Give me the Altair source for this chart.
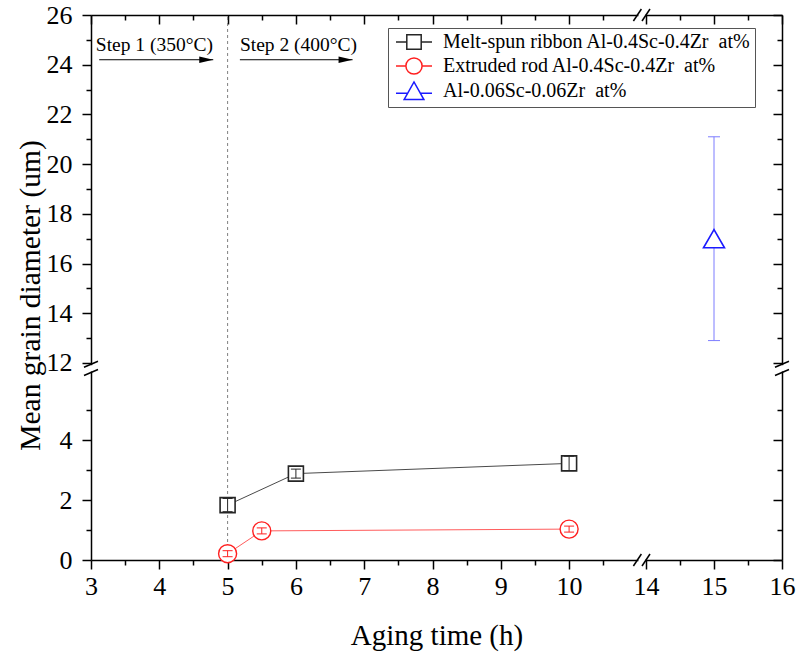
import altair as alt
import pandas as pd

# ---------------- data ----------------
ribbon_time = [5, 6, 10]
ribbon_diam = [1.83, 2.88, 3.22]
ribbon_err = [0.22, 0.15, 0.24]

rod_time = [5, 5.5, 10]
rod_diam = [0.21, 0.97, 1.03]
rod_err = [0.1, 0.1, 0.1]

dilute_time = [15]
dilute_diam = [17.0]
dilute_err = [4.1]

series_names = [
    "Melt-spun ribbon Al-0.4Sc-0.4Zr\u00a0 at%",
    "Extruded rod Al-0.4Sc-0.4Zr\u00a0 at%",
    "Al-0.06Sc-0.06Zr\u00a0 at%",
]

x_major = [3, 4, 5, 6, 7, 8, 9, 10, 14, 15, 16]
x_minor = [3.5, 4.5, 5.5, 6.5, 7.5, 8.5, 9.5, 10.5, 14.5, 15.5]
y_major = [0, 2, 4, 12, 14, 16, 18, 20, 22, 24, 26]
y_minor = [1, 3, 5, 13, 15, 17, 19, 21, 23, 25]

x_segments = [3, 11, 14, 16]        # broken x axis: 3-11 | 14-16
y_segments = [0, 6.25, 11.95, 26]   # broken y axis: 0-6.25 | 11.95-26

step_labels = ["Step 1 (350°C)", "Step 2 (400°C)"]
step_text_x = [3.07, 5.18]
arrow_tail = [3.12, 5.18]
arrow_head = [4.79, 6.83]
arrow_level = 24.2
label_level = 24.55
stage_boundary = 5

# ---------------- layout ----------------
W, H = 691, 545
FONT = "Liberation Serif"

xs = alt.Scale(domain=x_segments, range=[0, 546.4, 555, W], nice=False, zero=False)
ys = alt.Scale(domain=y_segments, range=[H, 357.5, 349.2, 0], nice=False, zero=False)


def X(field, axis=None):
    return alt.X(field, type="quantitative", scale=xs, axis=axis)


def Y(field, axis=None):
    return alt.Y(field, type="quantitative", scale=ys, axis=axis)


ribbon = pd.DataFrame({"t": ribbon_time, "d": ribbon_diam, "e": ribbon_err})
rod = pd.DataFrame({"t": rod_time, "d": rod_diam, "e": rod_err})
dilute = pd.DataFrame({"t": dilute_time, "d": dilute_diam, "e": dilute_err})

common_axis = dict(grid=False, tickColor="black", tickWidth=1.5, domainColor="black",
                   domainWidth=1.5, zindex=0)

ax_x_main = alt.Axis(values=x_major, format="d", orient="bottom", tickSize=9,
                     labelFont=FONT, labelFontSize=26, labelColor="black", labelPadding=4,
                     labelFlush=False, labelOverlap=False,
                     title="Aging time (h)", titleFont=FONT, titleFontSize=29,
                     titleFontWeight="normal", titleColor="black", titleY=75,
                     titleBaseline="middle", **common_axis)
ax_x_minor = alt.Axis(values=x_minor, orient="bottom", tickSize=5, labels=False,
                      domain=False, title=None, **common_axis)
ax_x_top = alt.Axis(values=x_major, orient="bottom", offset=-H, tickSize=9, labels=False,
                    title=None, **common_axis)
ax_x_top_minor = alt.Axis(values=x_minor, orient="bottom", offset=-H, tickSize=5,
                          labels=False, domain=False, title=None, **common_axis)

ax_y_main = alt.Axis(values=y_major, format="d", orient="left", tickSize=9,
                     labelFont=FONT, labelFontSize=26, labelColor="black", labelPadding=10,
                     labelFlush=False, labelOverlap=False,
                     title="Mean grain diameter (um)", titleFont=FONT, titleFontSize=29.5,
                     titleFontWeight="normal", titleColor="black", titleX=-61, titleY=280,
                     titleAngle=-90, titleAlign="center", titleBaseline="middle",
                     **common_axis)
ax_y_minor = alt.Axis(values=y_minor, orient="left", tickSize=5, labels=False,
                      domain=False, title=None, **common_axis)
ax_y_right = alt.Axis(values=y_major, orient="left", offset=-W, tickSize=9, labels=False,
                      title=None, **common_axis)
ax_y_right_minor = alt.Axis(values=y_minor, orient="left", offset=-W, tickSize=5,
                            labels=False, domain=False, title=None, **common_axis)


def axis_layer(ax_x, ax_y):
    return alt.Chart(ribbon).mark_point(opacity=0).encode(x=X("t", ax_x), y=Y("d", ax_y))


axes_layers = [
    axis_layer(ax_x_main, ax_y_main),
    axis_layer(ax_x_minor, ax_y_minor),
    axis_layer(ax_x_top, ax_y_right),
    axis_layer(ax_x_top_minor, ax_y_right_minor),
]

# ---------------- break marks ----------------
hmask = pd.DataFrame({"x1": [x_segments[1]] * 2, "x2": [x_segments[2]] * 2,
                      "y": [y_segments[0], y_segments[-1]]})
vmask = pd.DataFrame({"x": [x_segments[0], x_segments[-1]],
                      "y1": [y_segments[1]] * 2, "y2": [y_segments[2]] * 2})
hbreak = pd.DataFrame({"bx": [x_segments[1], x_segments[2]] * 2,
                       "by": [y_segments[0]] * 2 + [y_segments[-1]] * 2})
vbreak = pd.DataFrame({"bx": [x_segments[0]] * 2 + [x_segments[-1]] * 2,
                       "by": [y_segments[1], y_segments[2]] * 2})

hmask_layer = alt.Chart(hmask).mark_rect(color="white", yOffset=-6, y2Offset=6,
                                         xOffset=1, x2Offset=-1).encode(
    x=X("x1"), x2="x2", y=Y("y"), y2="y")
vmask_layer = alt.Chart(vmask).mark_rect(color="white", xOffset=-8, x2Offset=8,
                                         yOffset=-1, y2Offset=1).encode(
    x=X("x"), x2="x", y=Y("y1"), y2="y2")
hbreak_layer = alt.Chart(hbreak).mark_rule(color="black", strokeWidth=1.5, xOffset=-4,
                                           x2Offset=4, yOffset=6, y2Offset=-6).encode(
    x=X("bx"), x2="bx", y=Y("by"), y2="by")
vbreak_layer = alt.Chart(vbreak).mark_rule(color="black", strokeWidth=1.5, xOffset=-7,
                                           x2Offset=7, yOffset=3, y2Offset=-3).encode(
    x=X("bx"), x2="bx", y=Y("by"), y2="by")

# ---------------- annotations ----------------
boundary = alt.Chart(pd.DataFrame({"b": [stage_boundary], "lo": [y_segments[0]],
                                   "hi": [y_segments[-1]]})).mark_rule(
    color="#808080", strokeWidth=1, strokeDash=[3, 3]).encode(
    x=X("b"), y=Y("lo"), y2="hi")

steps = pd.DataFrame({"label": step_labels, "tx": step_text_x, "a0": arrow_tail,
                      "a1": arrow_head, "ay": [arrow_level] * 2, "ly": [label_level] * 2})
step_text = alt.Chart(steps).mark_text(font=FONT, fontSize=19.5, align="left",
                                       baseline="alphabetic", color="black").encode(
    x=X("tx"), y=Y("ly"), text="label")
arrow_shaft = alt.Chart(steps).mark_rule(color="black", strokeWidth=1).encode(
    x=X("a0"), x2="a1", y=Y("ay"))
arrow_tip = alt.Chart(steps).mark_point(shape="M-1,-0.45L1,0L-1,0.45Z", size=196,
                                        filled=True, color="black", opacity=1,
                                        xOffset=-7).encode(x=X("a1"), y=Y("ay"))

# ---------------- data layers ----------------
def errbars(df, color, cap=5):
    base = alt.Chart(df).transform_calculate(lo="datum.d - datum.e", hi="datum.d + datum.e")
    stem = base.mark_rule(color=color, strokeWidth=1).encode(x=X("t"), y=Y("lo"), y2="hi")
    cap_lo = base.mark_rule(color=color, strokeWidth=1, xOffset=-cap, x2Offset=cap).encode(
        x=X("t"), x2="t", y=Y("lo"))
    cap_hi = base.mark_rule(color=color, strokeWidth=1, xOffset=-cap, x2Offset=cap).encode(
        x=X("t"), x2="t", y=Y("hi"))
    return [stem, cap_lo, cap_hi]


ribbon_line = alt.Chart(ribbon).mark_line(color="#4a4a4a", strokeWidth=1).encode(
    x=X("t"), y=Y("d"))
rod_line = alt.Chart(rod).mark_line(color="#ff5c5c", strokeWidth=1).encode(
    x=X("t"), y=Y("d"))

ribbon_pts = alt.Chart(ribbon).mark_point(shape="square", size=225, filled=True,
                                          fill="white", stroke="#262626", strokeWidth=1.6,
                                          opacity=1).encode(x=X("t"), y=Y("d"))
rod_pts = alt.Chart(rod).mark_point(shape="circle", size=324, filled=True, fill="white",
                                    stroke="#ff2020", strokeWidth=1.4, opacity=1).encode(
    x=X("t"), y=Y("d"))
dilute_pts = alt.Chart(dilute).mark_point(shape="triangle-up", size=441, filled=True,
                                          fill="white", stroke="#1a1aff", strokeWidth=1.6,
                                          opacity=1).encode(x=X("t"), y=Y("d"))

# ---------------- legend ----------------
legend_shapes = [
    "M-2,0H-0.8M0.8,0H2M-0.8,-0.8H0.8V0.8H-0.8Z",
    "M-2,0H-0.9M0.9,0H2M-0.9,0A0.9,0.9,0,1,0,0.9,0A0.9,0.9,0,1,0,-0.9,0Z",
    "M-2,0.25H-0.7M0.7,0.25H2M-1.1,0.95L0,-1L1.1,0.95Z",
]
legend_colors = ["#262626", "#ff2020", "#1a1aff"]
legend_opts = dict(orient="none", legendX=297, legendY=13, title=None,
                   labelFont=FONT, labelFontSize=20, labelColor="black",
                   labelLimit=600, symbolSize=324, symbolStrokeWidth=1.5,
                   symbolOffset=12, labelOffset=19, padding=4,
                   rowPadding=1, strokeColor="#555555", fillColor="white")
legend_layer = alt.Chart(pd.DataFrame({"series": series_names})).transform_filter(
    "false").mark_point(filled=False, size=324, strokeWidth=1.5, opacity=1).encode(
    shape=alt.Shape("series:N", scale=alt.Scale(domain=series_names, range=legend_shapes),
                    legend=alt.Legend(**legend_opts)),
    color=alt.Color("series:N", scale=alt.Scale(domain=series_names, range=legend_colors),
                    legend=alt.Legend(**legend_opts)),
)

layers = (
    axes_layers
    + [boundary, step_text, arrow_shaft, arrow_tip,
       ribbon_line, rod_line]
    + errbars(dilute, "#7d7dff", 6)
    + [ribbon_pts, rod_pts, dilute_pts]
    + errbars(ribbon, "#262626", 5)
    + errbars(rod, "#ff2020", 5)
    + [hmask_layer, vmask_layer, hbreak_layer, vbreak_layer, legend_layer]
)

chart = alt.layer(*layers).resolve_axis(x="independent", y="independent").properties(
    width=W, height=H,
    autosize=alt.AutoSizeParams(type="none"),
    padding={"left": 91, "top": 15, "right": 17, "bottom": 97},
).configure_view(stroke=None)

chart.save("out.html", embed_options={"renderer": "svg", "actions": False})
